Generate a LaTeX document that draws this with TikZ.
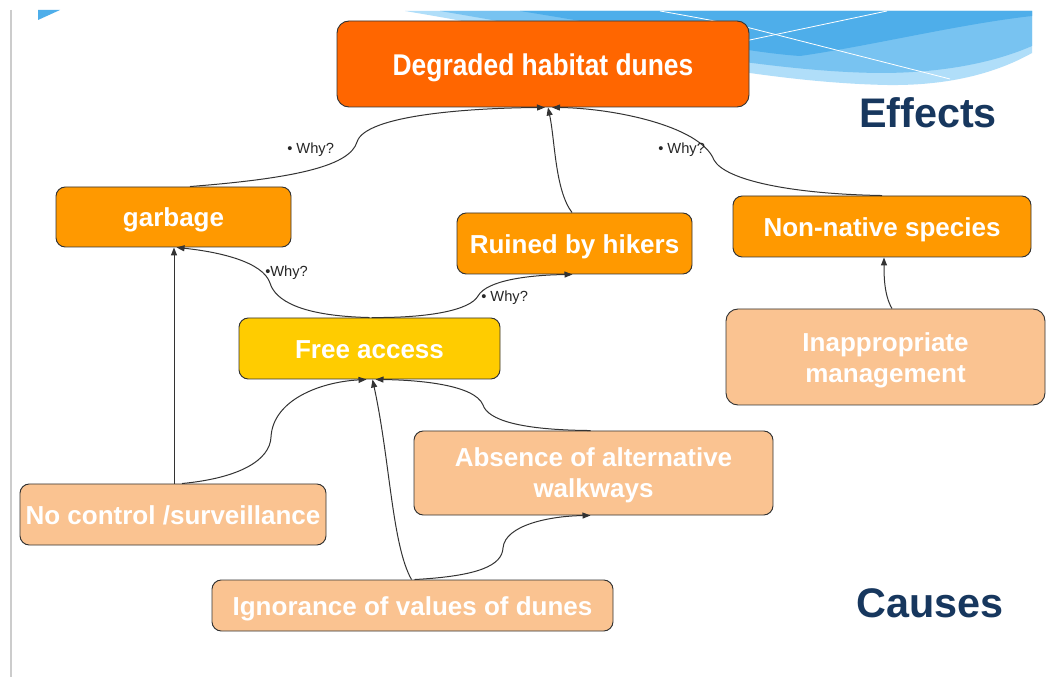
\documentclass[tikz,border=0pt]{standalone}
\usepackage{fontspec}
\usepackage{graphicx}
\setmainfont{Liberation Sans}
\usetikzlibrary{arrows.meta,calc}
\definecolor{cDeg}{HTML}{FF6600}
\definecolor{cEff}{HTML}{FF9900}
\definecolor{cFree}{HTML}{FFCC00}
\definecolor{cCause}{HTML}{FAC391}
\definecolor{cTitle}{HTML}{17375E}
\definecolor{cBlueA}{HTML}{B0DEF9}
\definecolor{cBlueB}{HTML}{78C3F1}
\definecolor{cBlueC}{HTML}{4EAEEA}
\definecolor{cLine}{HTML}{333333}
\begin{document}
\begin{tikzpicture}[x=0.75pt,y=-0.75pt,
  sz/.style 2 args={minimum width={#1*0.75pt}, minimum height={#2*0.75pt}},
  box/.style={draw=cLine, line width=0.7pt, rounded corners=7pt, inner sep=0pt,
    text=white, font=\fontsize{19.5}{23.25}\selectfont\bfseries},
  one/.style={text height=18.7pt, text depth=4.1pt},
  conn/.style={draw=cLine, line width=0.75pt, -{Triangle[length=6pt,width=4.5pt]}},
  why/.style={font=\fontsize{11}{13}\selectfont, text=black!85, inner sep=0pt, anchor=west},
  title/.style={font=\fontsize{31}{36}\selectfont\bfseries, text=cTitle, inner sep=0pt}]
\useasboundingbox (0,0) rectangle (1047,677);
\fill[white] (0,0) rectangle (1047,677);
% slide decoration
\fill[cBlueA] (405,11) .. controls (580,40) and (740,82) .. (887,85) .. controls (960,86) and (1005,68) .. (1032,53) -- (1032,11) -- cycle;
\fill[cBlueB] (440,11) .. controls (600,38) and (760,72) .. (880,73) .. controls (950,73) and (1000,60) .. (1032,46) -- (1032,11) -- cycle;
\fill[cBlueC] (520,11) .. controls (640,30) and (740,52) .. (800,56) .. controls (870,46) and (960,24) .. (1032,16) -- (1032,11) -- cycle;
\draw[white, line width=0.6pt] (660,11) .. controls (700,18) and (720,22) .. (750,28) -- (950,79);
\draw[white, line width=0.6pt] (745,41) -- (887,11);
\fill[cBlueC] (38,10) -- (60,10) -- (38,20) -- cycle;
\draw[black!20, line width=0.8pt] (11,10) -- (11,677);
% nodes
\node[box, fill=cDeg, sz={412}{86}, rounded corners=9pt, text height=21pt, text depth=4.3pt] (deg) at (543,64) {\fontsize{22.5}{27}\selectfont\scalebox{0.88}[1]{Degraded habitat dunes}};
\node[box, one, fill=cEff, sz={235}{60}] (garb) at (173.5,217) {garbage};
\node[box, one, fill=cEff, sz={235}{61}] (ruin) at (574.5,243.5) {Ruined by hikers};
\node[box, one, fill=cEff, sz={298}{61}] (nonn) at (882,226.5) {Non-native species};
\node[box, one, fill=cFree, sz={261}{61}] (free) at (369.5,348.5) {Free access};
\node[box, fill=cCause, sz={319}{96}, rounded corners=9pt] (inap) at (885.5,357) {\raisebox{-2.8pt}[\height][\depth]{\begin{tabular}{@{}c@{}}Inappropriate\\management\end{tabular}}};
\node[box, fill=cCause, sz={359}{84}] (abs) at (593.5,473) {\raisebox{-2.4pt}[\height][\depth]{\begin{tabular}{@{}c@{}}Absence of alternative\\walkways\end{tabular}}};
\node[box, one, fill=cCause, sz={306}{61}] (noc) at (173,514.5) {No control /surveillance};
\node[box, one, fill=cCause, sz={401}{51}] (ign) at (412.5,605.5) {Ignorance of values of dunes};
\node[title] (eff) at (928,113) {Effects};
\node[title] (cau) at (930,603) {Causes};
% connectors
\draw[conn] ($(garb.north)+(16.5,0)$) .. controls (300,178) and (350,165) .. (357,142) .. controls (365,115) and (470,108) .. ($(deg.south)+(2,0)$);
\draw[conn] ($(ruin.north)+(-2.5,0)$) .. controls (555,190) and (555,140) .. ($(deg.south)+(5,0)$);
\draw[conn] (nonn.north) .. controls (790,194) and (725,180) .. (714,160) .. controls (700,125) and (610,108) .. ($(deg.south)+(9,0)$);
\draw[conn] (free.north) .. controls (300,316) and (275,300) .. (270,283) .. controls (263,262) and (220,252) .. ($(garb.south)+(3,0)$);
\draw[conn] ($(free.north)+(2,0)$) .. controls (430,318) and (470,310) .. (478,296) .. controls (487,280) and (530,275) .. ($(ruin.south)+(-2,0)$);
\draw[conn] ($(noc.north)+(1,0)$) -- ($(garb.south)+(0.5,0)$);
\draw[conn] ($(noc.north)+(9,0)$) .. controls (240,478) and (270,460) .. (271,437) .. controls (273,400) and (320,382) .. ($(free.south)+(-3,0)$);
\draw[conn] ($(abs.north)+(-3,0)$) .. controls (520,430) and (488,420) .. (483,405) .. controls (475,385) and (420,380) .. ($(free.south)+(6,0)$);
\draw[conn] ($(ign.north)+(-1,0)$) .. controls (392,545) and (390,460) .. ($(free.south)+(3,0)$);
\draw[conn] ($(ign.north)+(2,0)$) .. controls (480,576) and (502,565) .. (503,548) .. controls (505,525) and (550,516) .. ($(abs.south)+(-3,0)$);
\draw[conn] ($(inap.north)+(6.5,0)$) .. controls (884,295) and (884,275) .. ($(nonn.south)+(2,0)$);
% labels
\node[why] (w1) at (287,150) {\textbullet\ Why?};
\node[why] (w2) at (658,150) {\textbullet\ Why?};
\node[why] (w3) at (265,273) {\textbullet Why?};
\node[why] (w4) at (481,298) {\textbullet\ Why?};
\end{tikzpicture}
\end{document}
